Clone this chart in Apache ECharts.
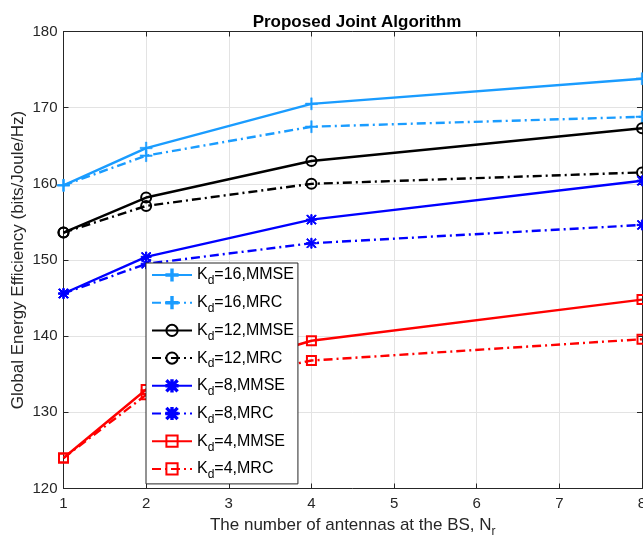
<!DOCTYPE html>
<html>
<head>
<meta charset="utf-8">
<script src="https://cdn.jsdelivr.net/npm/echarts@6/dist/echarts.min.js"></script>
<style>html,body{margin:0;padding:0;background:#fff}#c{width:643px;height:539px}</style>
</head>
<body>
<div id="c"></div>
<script>
const antennas = [1, 2, 4, 8];
const k16MMSE = [159.8, 164.7, 170.5, 173.8];
const k16MRC  = [159.8, 163.7, 167.5, 168.8];
const k12MMSE = [153.6, 158.2, 163.0, 167.3];
const k12MRC  = [153.6, 157.1, 160.0, 161.5];
const k8MMSE  = [145.6, 150.4, 155.3, 160.4];
const k8MRC   = [145.6, 149.5, 152.2, 154.6];
const k4MMSE  = [124.0, 133.0, 139.4, 144.8];
const k4MRC   = [124.0, 132.3, 136.8, 139.6];
const seriesNames = ['K_d=16,MMSE','K_d=16,MRC','K_d=12,MMSE','K_d=12,MRC','K_d=8,MMSE','K_d=8,MRC','K_d=4,MMSE','K_d=4,MRC'];
const yTicks = [120, 130, 140, 150, 160, 170, 180];
const xTicks = [1, 2, 3, 4, 5, 6, 7, 8];

const FONT = '"Liberation Sans", Arial, Helvetica, sans-serif';
const plusPath = 'path://M-1,-8h2v16h-2z M-8,-1h16v2h-16z';
const starPath = 'path://M-1,-8h2v16h-2z M-8,-1h16v2h-16z M-6.3,-7.7L7.7,6.3L6.3,7.7L-7.7,-6.3z M6.3,-7.7L7.7,-6.3L-6.3,7.7L-7.7,6.3z';
const dashDot = [9, 4, 2, 4];

function mk(name, vals, color, dashed, symbol) {
  const s = {
    name: name, type: 'line',
    data: antennas.map((x, i) => [x, vals[i]]),
    lineStyle: { color: color, width: 2.4, type: dashed ? dashDot : 'solid' },
    itemStyle: { color: color },
    symbol: symbol, symbolSize: 12, showSymbol: true,
    animation: false, xAxisIndex: 0, yAxisIndex: 0
  };
  if (symbol === 'circle') {
    s.symbolSize = 10;
    s.itemStyle = { color: 'rgba(0,0,0,0)', borderColor: color, borderWidth: 2 };
  } else if (symbol === 'rect') {
    s.symbolSize = 9;
    s.itemStyle = { color: 'rgba(0,0,0,0)', borderColor: color, borderWidth: 2 };
  } else if (symbol === starPath) {
    s.symbolSize = 10;
    s.itemStyle = { color: color, borderColor: color, borderWidth: 1 };
  } else {
    s.symbolSize = 12;
    s.itemStyle = { color: color, borderColor: color, borderWidth: 0.5 };
  }
  return s;
}

const blue = '#1a9cff', black = '#000000', dblue = '#0000ff', red = '#ff0000';
const series = [
  mk(seriesNames[0], k16MMSE, blue, false, plusPath),
  mk(seriesNames[1], k16MRC, blue, true, plusPath),
  mk(seriesNames[2], k12MMSE, black, false, 'circle'),
  mk(seriesNames[3], k12MRC, black, true, 'circle'),
  mk(seriesNames[4], k8MMSE, dblue, false, starPath),
  mk(seriesNames[5], k8MRC, dblue, true, starPath),
  mk(seriesNames[6], k4MMSE, red, false, 'rect'),
  mk(seriesNames[7], k4MRC, red, true, 'rect')
];

const axisLineStyle = { color: '#262626', width: 1 };
const chart = echarts.init(document.getElementById('c'), null, { renderer: 'canvas' });
chart.setOption({
  backgroundColor: '#fff',
  animation: false,
  textStyle: { fontFamily: FONT },
  title: {
    text: 'Proposed Joint Algorithm', left: 352, top: 9, textAlign: 'center',
    textStyle: { fontFamily: FONT, fontSize: 17, fontWeight: 'bold', color: '#000' }
  },
  grid: { left: 63.5, right: 1, top: 31.5, bottom: 50.5, containLabel: false, outerBoundsMode: 'none' },
  legend: {
    orient: 'vertical', left: 146, top: 263,
    itemWidth: 40, itemHeight: 14, itemGap: 7.7,
    padding: [4, 4, 3, 5],
    backgroundColor: '#fff', borderColor: '#262626', borderWidth: 1, borderRadius: 0,
    data: seriesNames,
    formatter: function (n) {
      const m = n.match(/^K_d(=.*)$/);
      return '{m|K}{s|d}{m|' + m[1] + '}';
    },
    textStyle: {
      fontFamily: FONT, fontSize: 16, color: '#000',
      rich: {
        m: { fontFamily: FONT, fontSize: 16, color: '#000' },
        s: { fontFamily: FONT, fontSize: 12, color: '#000', padding: [12, 0, 0, 0] }
      }
    }
  },
  xAxis: [{
    type: 'value', min: 1, max: 8, interval: 1, position: 'bottom',
    name: '{m|The number of antennas at the BS, N}{s|r}',
    nameLocation: 'middle', nameGap: 24,
    nameTextStyle: {
      rich: {
        m: { fontFamily: FONT, fontSize: 17, color: '#262626' },
        s: { fontFamily: FONT, fontSize: 12, color: '#262626', padding: [13, 0, 0, 0] }
      }
    },
    axisLine: { show: true, onZero: false, lineStyle: axisLineStyle },
    axisTick: { show: true, inside: true, length: 5, lineStyle: axisLineStyle },
    axisLabel: { fontFamily: FONT, fontSize: 15, color: '#262626', margin: 8 },
    splitLine: { show: true, lineStyle: { color: '#e3e3e3', width: 1 } }
  }, {
    type: 'value', min: 1, max: 8, interval: 1, position: 'top',
    axisLine: { show: true, onZero: false, lineStyle: axisLineStyle },
    axisTick: { show: true, inside: true, length: 5, lineStyle: axisLineStyle },
    axisLabel: { show: false }, splitLine: { show: false }
  }],
  yAxis: [{
    type: 'value', min: 120, max: 180, interval: 10, position: 'left',
    name: 'Global Energy Efficiency (bits/Joule/Hz)',
    nameLocation: 'middle', nameGap: 37, nameMoveOverlap: false,
    nameTextStyle: { fontFamily: FONT, fontSize: 17, color: '#262626' },
    axisLine: { show: true, onZero: false, lineStyle: axisLineStyle },
    axisTick: { show: true, inside: true, length: 5, lineStyle: axisLineStyle },
    axisLabel: { fontFamily: FONT, fontSize: 15, color: '#262626', margin: 6,
      formatter: v => (yTicks.indexOf(v) >= 0 ? String(v) : '') },
    splitLine: { show: true, lineStyle: { color: '#e3e3e3', width: 1 } }
  }, {
    type: 'value', min: 120, max: 180, interval: 10, position: 'right',
    axisLine: { show: true, onZero: false, lineStyle: axisLineStyle },
    axisTick: { show: true, inside: true, length: 5, lineStyle: axisLineStyle },
    axisLabel: { show: false }, splitLine: { show: false }
  }],
  series: series
});
</script>
</body>
</html>
